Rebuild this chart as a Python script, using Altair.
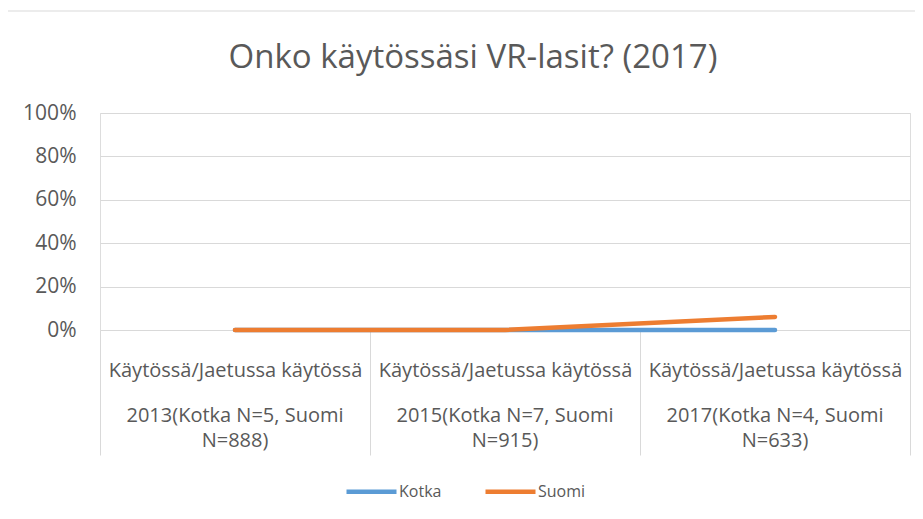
import altair as alt
import pandas as pd

# ---- data ----
level1 = "Käytössä/Jaetussa käytössä"
categories = [
    "2013(Kotka N=5, Suomi\nN=888)",
    "2015(Kotka N=7, Suomi\nN=915)",
    "2017(Kotka N=4, Suomi\nN=633)",
]
series = ["Kotka", "Suomi"]
kotka = [0.0, 0.0, 0.0]
suomi = [0.0, 0.0, 0.06]
colors = ["#5B9BD5", "#ED7D31"]

rows = []
for s, vals in zip(series, [kotka, suomi]):
    for c, v in zip(categories, vals):
        rows.append({"cat": c, "series": s, "value": v})
df = pd.DataFrame(rows)
cat_df = pd.DataFrame({"cat": categories})

FONT = "Open Sans"
TXT = "#595959"
GRID = "#D9D9D9"

x_scale = alt.Scale(type="band", paddingInner=0, paddingOuter=0)

x = alt.X(
    "cat:N",
    sort=categories,
    scale=x_scale,
    axis=alt.Axis(
        title=None,
        labelAngle=0,
        labelExpr="isString(datum.value) ? '" + level1 + "' : ''",
        labelBaseline="top",
        labelPadding=-95,
        labelLimit=400,
        labelFont=FONT,
        labelFontSize=20,
        labelColor=TXT,
        domain=False,
        ticks=True,
        tickBand="extent",
        tickSize=125,
        tickColor=GRID,
        tickWidth=1,
        grid=False,
    ),
)

y = alt.Y(
    "value:Q",
    scale=alt.Scale(domain=[0, 1]),
    axis=alt.Axis(
        title=None,
        values=[0, 0.2, 0.4, 0.6, 0.8, 1.0],
        format=".0%",
        labelFont=FONT,
        labelFontSize=21,
        labelColor=TXT,
        labelPadding=24,
        domain=False,
        ticks=False,
        grid=True,
        gridColor=GRID,
        gridWidth=1,
    ),
)

border = alt.Chart(pd.DataFrame({"a": [0]})).mark_rect(
    fillOpacity=0, stroke=GRID, strokeWidth=1
).encode(
    x=alt.value(-93), x2=alt.value(817), y=alt.value(-102), y2=alt.value(398)
)

lines = alt.Chart(df).mark_line(strokeWidth=4.5, strokeCap="round").encode(
    x=x,
    y=y,
    color=alt.Color(
        "series:N",
        sort=series,
        scale=alt.Scale(domain=series, range=colors),
        legend=alt.Legend(
            title=None,
            orient="none",
            direction="horizontal",
            legendX=244,
            legendY=351,
            symbolType="stroke",
            symbolSize=2500,
            symbolStrokeWidth=4.5,
            labelFont=FONT,
            labelFontSize=16,
            labelColor=TXT,
            labelOffset=0,
            columnPadding=34,
        ),
    ),
    order=alt.Order("series:N"),
)

year_labels = alt.Chart(cat_df).mark_text(
    font=FONT, fontSize=20, color=TXT, lineBreak="\n", lineHeight=25,
    baseline="top", align="center",
).encode(
    x=alt.X("cat:N", sort=categories, scale=x_scale),
    y=alt.value(293),
    text="cat:N",
)

chart = alt.layer(border, lines, year_labels).properties(
    width=810,
    height=217,
    autosize=alt.AutoSizeParams(type="none"),
    padding={"left": 92, "top": 105, "right": 5, "bottom": 178},
    title=alt.TitleParams(
        text="Onko käytössäsi VR-lasit? (2017)",
        font=FONT,
        fontSize=33,
        fontWeight="normal",
        color=TXT,
        anchor="middle",
        dx=-32,
        offset=-64,
    ),
).configure_view(stroke=None).configure(background="white")

chart.save("out.html", embed_options={"renderer": "svg", "actions": False})
